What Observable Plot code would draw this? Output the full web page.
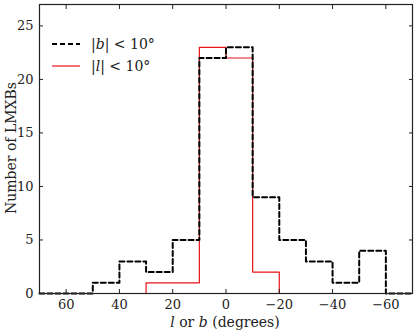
<!DOCTYPE html>
<html><head><meta charset="utf-8">
<script src="https://cdn.jsdelivr.net/npm/d3@7"></script>
<script src="https://cdn.jsdelivr.net/npm/@observablehq/plot@0.6"></script>
<style>
body{margin:0;background:#fff;}
#wrap{position:relative;width:417px;height:330px;font-family:"DejaVu Serif",serif;color:#222;}
.lbl{position:absolute;font-size:14px;white-space:nowrap;line-height:15px;}
</style></head>
<body><div id="wrap"></div>
<script>
const binEdges = [70,60,50,40,30,20,10,0,-10,-20,-30,-40,-50,-60,-70];
const countsB = [0,0,1,3,2,5,22,23,9,5,3,1,4,0];
const edgesL = [30,20,10,0,-10,-20];
const countsL = [1,1,23,22,2];
const xTicks = [60,40,20,0,-20,-40,-60];
const yTicks = [0,5,10,15,20,25];

function steps(e, c){
  const pts=[{x:e[0],y:0}];
  c.forEach((v,i)=>pts.push({x:e[i],y:v}));
  pts.push({x:e[e.length-1],y:0});
  return pts;
}
const dataB = steps(binEdges, countsB);
const dataL = steps(edgesL, countsL);

const chart = Plot.plot({
  width:417, height:330,
  marginLeft:39, marginRight:5, marginTop:4, marginBottom:37,
  style:{fontFamily:"'DejaVu Serif', serif", fontSize:"13px", color:"#222", background:"#fff"},
  x:{domain:[70,-70]},
  y:{domain:[0,27]},
  marks:[
    Plot.line(dataL,{x:"x",y:"y",curve:"step-after",stroke:"#e8141a",strokeWidth:1.2}),
    Plot.line(dataB,{x:"x",y:"y",curve:"step-after",stroke:"#000",strokeWidth:2,strokeDasharray:"5,3"}),
    Plot.axisX({ticks:xTicks, tickSize:-4, tickPadding:10, label:null}),
    Plot.axisX({anchor:"top", ticks:xTicks, tickSize:-4, tickFormat:()=>"", label:null}),
    Plot.axisY({ticks:yTicks, tickSize:-4, tickPadding:10, label:null}),
    Plot.axisY({anchor:"right", ticks:yTicks, tickSize:-4, tickFormat:()=>"", label:null}),
    Plot.frame({stroke:"#222", strokeWidth:1.2})
  ]
});
const wrap = document.getElementById("wrap");
wrap.appendChild(chart);

function addLabel(html, css){
  const d=document.createElement("div");
  d.className="lbl"; d.innerHTML=html; Object.assign(d.style, css);
  wrap.appendChild(d);
}
addLabel("<i>l</i> or <i>b</i> (degrees)",{left:"225px",top:"322px",transform:"translate(-50%,-50%)"});
addLabel("Number of LMXBs",{left:"11px",top:"148px",transform:"translate(-50%,-50%) rotate(-90deg)"});

// legend
const lg = document.createElement("div");
lg.style.cssText="position:absolute;left:52px;top:33px;font-size:14px;line-height:22px;";
lg.innerHTML = `
<div style="display:flex;align-items:center;"><svg width="28" height="10"><line x1="0" x2="28" y1="5" y2="5" stroke="#000" stroke-width="2" stroke-dasharray="5,3"/></svg><span style="margin-left:11px">|<i>b</i>| &lt; 10°</span></div>
<div style="display:flex;align-items:center;"><svg width="28" height="10"><line x1="0" x2="28" y1="5" y2="5" stroke="#e8141a" stroke-width="1.2"/></svg><span style="margin-left:11px">|<i>l</i>| &lt; 10°</span></div>`;
wrap.appendChild(lg);
</script></body></html>
